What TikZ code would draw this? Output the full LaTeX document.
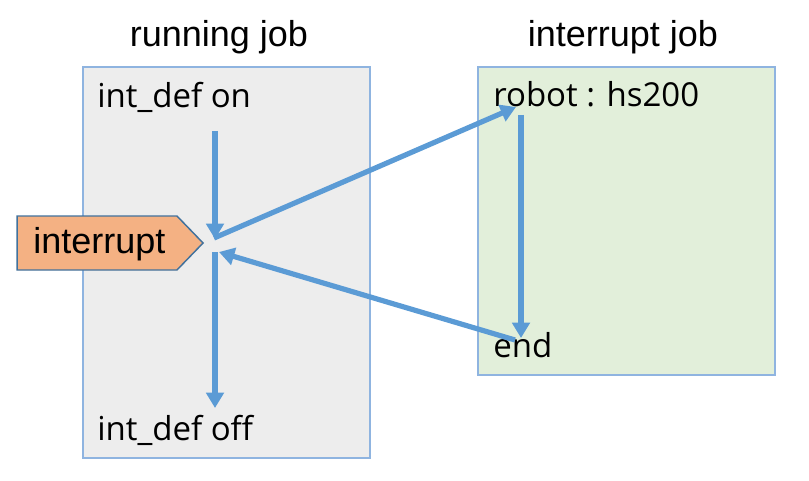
\documentclass[tikz,border=0pt]{standalone}
\usepackage{fontspec}
\setmainfont{Liberation Sans}
\newfontfamily\boxfont{Open Sans}
\usetikzlibrary{shapes.symbols,arrows.meta}
\definecolor{FlowCol}{RGB}{91,155,213}
\definecolor{EdgeCol}{RGB}{143,180,224}
\definecolor{RunCol}{RGB}{237,237,237}
\definecolor{IntCol}{RGB}{226,239,218}
\definecolor{SigCol}{RGB}{244,177,131}
\definecolor{SigEdge}{RGB}{65,113,156}

\tikzset{
  jobbox/.style={draw=EdgeCol, line width=0.8pt},
  jobtext/.style={anchor=base west, inner sep=0pt, font=\boxfont\fontsize{24.75}{28}\selectfont},
  title/.style={anchor=base, inner sep=0pt, font=\fontsize{27}{30}\selectfont},
  flow/.style={draw=FlowCol, line width=3.9pt, -{Triangle[length=11.5pt,width=13pt]}}
}

\begin{document}
\begin{tikzpicture}[x=0.75pt,y=-0.75pt]
            \useasboundingbox (0,0) rectangle (809,481);

            % job boxes
            \node[jobbox, fill=RunCol, minimum width=215.25pt, minimum height=293.25pt] (run) at (226.5,262.5) {};
            \node[jobbox, fill=IntCol, minimum width=222.75pt, minimum height=231pt] (int) at (626.5,221) {};

            \node[title] (runtitle) at (219,47) {running job};
            \node[title] (inttitle) at (623,47) {interrupt job};

            \node[jobtext] (on) at (97,108) {int\_def on};
            \node[jobtext] (off) at (97,440) {int\_def off};
            \node[jobtext] (robot) at (493,107) {robot : hs200};
            \node[jobtext] (end) at (493,357) {end};

            % interrupt signal
            \node[signal, signal to=east, signal pointer angle=92, draw=SigEdge, line width=1.1pt,
                  fill=SigCol, minimum width=139.5pt, minimum height=40.5pt, inner sep=0pt] (intr) at (97,243) {};
            \node[anchor=base west, inner sep=0pt, font=\fontsize{27}{30}\selectfont] (intrlabel) at (33,253) {interrupt};

            \coordinate (onfoot) at (215,131);
            \coordinate (jin) at (215,239);
            \coordinate (jleave) at (214,238);
            \coordinate (jout) at (215,252);
            \coordinate (jback) at (219,252);
            \coordinate (offtop) at (215,408);
            \coordinate (robhead) at (516,107);
            \coordinate (robfoot) at (521,115);
            \coordinate (endtop) at (521,338);
            \coordinate (endtail) at (515,340);

            \draw[flow] (onfoot) -- (jin);
            \draw[flow] (jout) -- (offtop);
            \draw[flow] (jleave) -- (robhead);
            \draw[flow] (robfoot) -- (endtop);
            \draw[flow] (endtail) -- (jback);
        \end{tikzpicture}
\end{document}
